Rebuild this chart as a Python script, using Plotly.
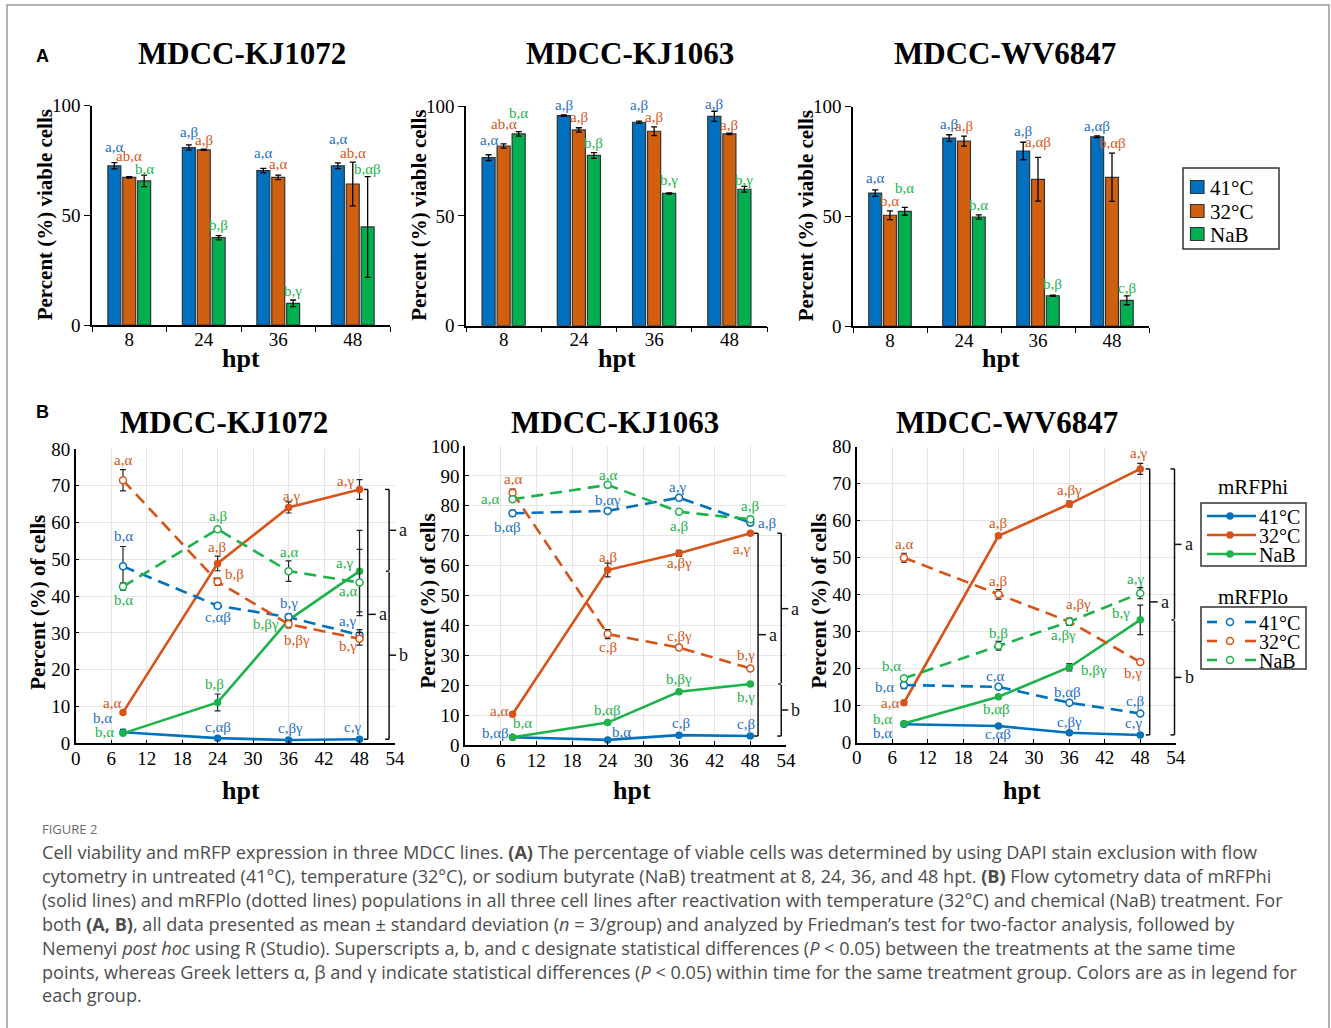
import plotly.graph_objects as go

W, H = 1331, 1028
SERIF = "Liberation Serif, Times New Roman, serif"
SANS = "Liberation Sans, Arial, sans-serif"
CAP = "Open Sans, Noto Sans, sans-serif"

# ======================= DATA =======================
hpt_cats = ["8", "24", "36", "48"]
treatments = ["41°C", "32°C", "NaB"]
cell_lines = ["MDCC-KJ1072", "MDCC-KJ1063", "MDCC-WV6847"]
legend_groups = ["mRFPhi", "mRFPlo"]

# ---- Panel A: percent viable cells ----
kj1072_41 = [72.6, 80.9, 70.4, 72.6]
kj1072_41_sd = [1.4, 1.2, 1.0, 1.3]
kj1072_32 = [67.3, 79.9, 67.3, 64.3]
kj1072_32_sd = [0.3, 0.3, 1.0, 10.0]
kj1072_nab = [65.7, 39.8, 9.9, 44.7]
kj1072_nab_sd = [2.6, 1.0, 1.5, 23.0]
kj1072_41_lab = ["a,α", "a,β", "a,α", "a,α"]
kj1072_32_lab = ["ab,α", "a,β", "a,α", "ab,α"]
kj1072_nab_lab = ["b,α", "b,β", "b,γ", "b,αβ"]

kj1063_41 = [76.5, 95.6, 92.6, 95.3]
kj1063_41_sd = [1.3, 0.3, 0.5, 2.3]
kj1063_32 = [81.8, 89.1, 88.5, 87.3]
kj1063_32_sd = [1.0, 1.0, 2.0, 0.3]
kj1063_nab = [87.3, 77.5, 60.2, 62.1]
kj1063_nab_sd = [1.0, 1.3, 0.3, 1.3]
kj1063_41_lab = ["a,α", "a,β", "a,β", "a,β"]
kj1063_32_lab = ["ab,α", "a,β", "a,β", "a,β"]
kj1063_nab_lab = ["b,α", "b,β", "b,γ", "b,γ"]

wv6847_41 = [60.6, 85.7, 79.8, 86.3]
wv6847_41_sd = [1.5, 1.5, 4.0, 0.4]
wv6847_32 = [50.5, 84.3, 66.9, 67.8]
wv6847_32_sd = [2.0, 2.3, 10.0, 11.0]
wv6847_nab = [52.3, 49.7, 13.8, 11.7]
wv6847_nab_sd = [1.8, 1.0, 0.3, 2.0]
wv6847_41_lab = ["a,α", "a,β", "a,β", "a,αβ"]
wv6847_32_lab = ["b,α", "a,β", "a,αβ", "b,αβ"]
wv6847_nab_lab = ["b,α", "b,α", "b,β", "c,β"]

# ---- Panel B: percent of cells (mRFPhi solid, mRFPlo dashed) ----
hpt = [8, 24, 36, 48]

kj1072_hi_41 = [3.0, 1.4, 0.9, 1.1]
kj1072_hi_41_sd = [0.8, 0.3, 0.2, 0.2]
kj1072_hi_32 = [8.4, 48.9, 64.1, 69.0]
kj1072_hi_32_sd = [0.5, 2.0, 1.5, 2.7]
kj1072_hi_nab = [2.7, 11.1, 33.5, 46.8]
kj1072_hi_nab_sd = [0.5, 2.3, 1.0, 11.1]
kj1072_lo_41 = [48.1, 37.4, 34.3, 29.4]
kj1072_lo_41_sd = [5.4, 0.7, 0.8, 1.5]
kj1072_lo_32 = [71.5, 43.9, 32.4, 28.4]
kj1072_lo_32_sd = [2.9, 1.0, 1.0, 1.7]
kj1072_lo_nab = [42.6, 58.2, 46.8, 43.7]
kj1072_lo_nab_sd = [1.0, 0.5, 2.8, 9.0]
kj1072_hi_41_lab = ["b,α", "c,αβ", "c,βγ", "c,γ"]
kj1072_hi_32_lab = ["a,α", "a,β", "a,γ", "a,γ"]
kj1072_hi_nab_lab = ["b,α", "b,β", "b,βγ", "a,γ"]
kj1072_lo_41_lab = ["b,α", "c,αβ", "b,γ", "a,γ"]
kj1072_lo_32_lab = ["a,α", "b,β", "b,βγ", "b,γ"]
kj1072_lo_nab_lab = ["b,α", "a,β", "a,α", "a,α"]

kj1063_hi_41 = [2.6, 1.7, 3.3, 3.0]
kj1063_hi_41_sd = [0.3, 0.3, 0.3, 0.3]
kj1063_hi_32 = [10.3, 58.5, 64.1, 70.8]
kj1063_hi_32_sd = [0.5, 2.3, 1.0, 0.5]
kj1063_hi_nab = [2.6, 7.5, 17.8, 20.4]
kj1063_hi_nab_sd = [0.3, 0.5, 0.6, 0.5]
kj1063_lo_41 = [77.5, 78.3, 82.7, 74.4]
kj1063_lo_41_sd = [1.0, 0.3, 0.5, 1.0]
kj1063_lo_32 = [84.4, 37.1, 32.6, 25.6]
kj1063_lo_32_sd = [1.2, 1.5, 0.8, 0.5]
kj1063_lo_nab = [82.2, 87.0, 78.0, 75.5]
kj1063_lo_nab_sd = [0.5, 0.8, 0.5, 1.0]
kj1063_hi_41_lab = ["b,αβ", "b,α", "c,β", "c,β"]
kj1063_hi_32_lab = ["a,α", "a,β", "a,βγ", "a,γ"]
kj1063_hi_nab_lab = ["b,α", "b,αβ", "b,βγ", "b,γ"]
kj1063_lo_41_lab = ["b,αβ", "b,αγ", "a,γ", "a,β"]
kj1063_lo_32_lab = ["a,α", "c,β", "c,βγ", "b,γ"]
kj1063_lo_nab_lab = ["a,α", "a,α", "a,β", "a,β"]

wv6847_hi_41 = [5.0, 4.5, 2.7, 2.1]
wv6847_hi_41_sd = [0.3, 0.3, 0.3, 0.3]
wv6847_hi_32 = [10.8, 55.9, 64.5, 74.0]
wv6847_hi_32_sd = [0.4, 0.5, 0.8, 1.5]
wv6847_hi_nab = [5.2, 12.4, 20.4, 33.2]
wv6847_hi_nab_sd = [0.4, 0.4, 1.0, 4.0]
wv6847_lo_41 = [15.6, 15.1, 10.8, 7.9]
wv6847_lo_41_sd = [1.0, 0.3, 0.3, 0.3]
wv6847_lo_32 = [50.0, 40.1, 32.7, 21.8]
wv6847_lo_32_sd = [1.2, 1.3, 0.8, 0.4]
wv6847_lo_nab = [17.4, 26.2, 32.7, 40.4]
wv6847_lo_nab_sd = [0.5, 1.2, 1.0, 1.5]
wv6847_hi_41_lab = ["b,α", "c,αβ", "c,βγ", "c,γ"]
wv6847_hi_32_lab = ["a,α", "a,β", "a,βγ", "a,γ"]
wv6847_hi_nab_lab = ["b,α", "b,αβ", "b,βγ", "b,γ"]
wv6847_lo_41_lab = ["b,α", "c,α", "b,αβ", "c,β"]
wv6847_lo_32_lab = ["a,α", "a,β", "a,βγ", "b,γ"]
wv6847_lo_nab_lab = ["b,α", "b,β", "a,βγ", "a,γ"]

bracket_labels = ["a", "a", "b"]  # inner, outer-top, outer-bottom

caption_title = "FIGURE 2"
caption_lines = [
    "Cell viability and mRFP expression in three MDCC lines. <b>(A)</b> The percentage of viable cells was determined by using DAPI stain exclusion with flow",
    "cytometry in untreated (41°C), temperature (32°C), or sodium butyrate (NaB) treatment at 8, 24, 36, and 48 hpt. <b>(B)</b> Flow cytometry data of mRFPhi",
    "(solid lines) and mRFPlo (dotted lines) populations in all three cell lines after reactivation with temperature (32°C) and chemical (NaB) treatment. For",
    "both <b>(A, B)</b>, all data presented as mean ± standard deviation (<i>n</i> = 3/group) and analyzed by Friedman’s test for two-factor analysis, followed by",
    "Nemenyi <i>post hoc</i> using R (Studio). Superscripts a, b, and c designate statistical differences (<i>P</i> &lt; 0.05) between the treatments at the same time",
    "points, whereas Greek letters α, β and γ indicate statistical differences (<i>P</i> &lt; 0.05) within time for the same treatment group. Colors are as in legend for",
    "each group.",
]

# ======================= STYLE / GEOMETRY =======================
BAR_COLORS = ["#0070C0", "#D0600F", "#00B050"]
LINE_COLORS = ["#0072BD", "#D95319", "#1DB34A"]
TXT_COLORS = ["#1F6FC5", "#D4581A", "#1DB34A"]

BARGAP = 0.4
# pixel geometry: (left, right, bottom, top)
A_geo = [(92, 390, 325, 105.7), (466, 767, 325.7, 106), (853, 1149, 326, 106.7)]
B_geo = [(75.7, 395, 743.3, 449), (465, 786, 745, 446), (856.7, 1175.7, 742.7, 446.7)]
B_ymax = [80, 100, 80]

A_label_shift = [
    [[19, 16, 18, 27], [21, 10, 13, 31], [12, 13, 12, 58]],
    [[18, 11, 17, 12], [22, 13, 14, 9], [21, 12, 13, 9]],
    [[15, 14, 20, 11], [14, 15, 37, 34], [23, 12, 12, 12]],
]
# order: hi_41, hi_32, hi_nab, lo_41, lo_32, lo_nab ; (dx, dy) px, dy positive = down
B_label_off = [
    [[(-21, -14), (0, -11), (2, -12), (-7, -12)],
     [(-11, -9), (-1, -16), (3, -11), (-14, -8)],
     [(-19, -1), (-3, -18), (-23, 4), (-15, -8)],
     [(0, -30), (0, 11), (0, -14), (-12, -14)],
     [(0, -20), (17, -8), (8, 16), (-12, 7)],
     [(0, 13), (0, -13), (0, -19), (-12, 8)]],
    [[(-17, -4), (14, -8), (2, -12), (-4, -12)],
     [(-14, -3), (0, -13), (0, 10), (-9, 16)],
     [(10, -14), (0, -13), (0, -13), (-4, 13)],
     [(-5, 14), (0, -11), (-2, -11), (17, 0)],
     [(0, -14), (0, 13), (0, -12), (-4, -13)],
     [(-23, 0), (0, -10), (0, 14), (0, -13)]],
    [[(-21, 9), (0, 8), (0, -11), (-7, -12)],
     [(-14, 0), (0, -13), (0, -14), (-2, -16)],
     [(-21, -4), (-2, 12), (25, 3), (-19, -7)],
     [(-19, 2), (-3, -11), (-2, -11), (-5, -12)],
     [(0, -14), (0, -13), (9, -18), (-7, 11)],
     [(-12, -12), (0, -13), (-6, 13), (-5, -14)]],
]
bracket_inner_h = [49.4, 49.3, 49.6]
bracket_outer_h = [53.0, 53.2, 53.8]


def px_x(px):
    return px / W


def px_y(py):
    return 1 - py / H


def text_ann(px, py, text, size, color="black", family=SERIF, xanchor="center", angle=0):
    return dict(x=px_x(px), y=px_y(py), xref="paper", yref="paper", text=text, showarrow=False,
                xanchor=xanchor, yanchor="middle", textangle=angle,
                font=dict(family=family, size=size, color=color))


A_data = [
    ([kj1072_41, kj1072_32, kj1072_nab], [kj1072_41_sd, kj1072_32_sd, kj1072_nab_sd],
     [kj1072_41_lab, kj1072_32_lab, kj1072_nab_lab]),
    ([kj1063_41, kj1063_32, kj1063_nab], [kj1063_41_sd, kj1063_32_sd, kj1063_nab_sd],
     [kj1063_41_lab, kj1063_32_lab, kj1063_nab_lab]),
    ([wv6847_41, wv6847_32, wv6847_nab], [wv6847_41_sd, wv6847_32_sd, wv6847_nab_sd],
     [wv6847_41_lab, wv6847_32_lab, wv6847_nab_lab]),
]
B_data = [
    ([kj1072_hi_41, kj1072_hi_32, kj1072_hi_nab, kj1072_lo_41, kj1072_lo_32, kj1072_lo_nab],
     [kj1072_hi_41_sd, kj1072_hi_32_sd, kj1072_hi_nab_sd, kj1072_lo_41_sd, kj1072_lo_32_sd, kj1072_lo_nab_sd],
     [kj1072_hi_41_lab, kj1072_hi_32_lab, kj1072_hi_nab_lab, kj1072_lo_41_lab, kj1072_lo_32_lab, kj1072_lo_nab_lab]),
    ([kj1063_hi_41, kj1063_hi_32, kj1063_hi_nab, kj1063_lo_41, kj1063_lo_32, kj1063_lo_nab],
     [kj1063_hi_41_sd, kj1063_hi_32_sd, kj1063_hi_nab_sd, kj1063_lo_41_sd, kj1063_lo_32_sd, kj1063_lo_nab_sd],
     [kj1063_hi_41_lab, kj1063_hi_32_lab, kj1063_hi_nab_lab, kj1063_lo_41_lab, kj1063_lo_32_lab, kj1063_lo_nab_lab]),
    ([wv6847_hi_41, wv6847_hi_32, wv6847_hi_nab, wv6847_lo_41, wv6847_lo_32, wv6847_lo_nab],
     [wv6847_hi_41_sd, wv6847_hi_32_sd, wv6847_hi_nab_sd, wv6847_lo_41_sd, wv6847_lo_32_sd, wv6847_lo_nab_sd],
     [wv6847_hi_41_lab, wv6847_hi_32_lab, wv6847_hi_nab_lab, wv6847_lo_41_lab, wv6847_lo_32_lab, wv6847_lo_nab_lab]),
]

fig = go.Figure()
annotations = []
shapes = []
layout_axes = {}

tickfont = dict(family=SERIF, size=19, color="black")

# ---------- Panel A (bars) ----------
slot = (1 - BARGAP) / 3
for p, (vals, sds, labs) in enumerate(A_data):
    xa = "x" if p == 0 else f"x{p + 1}"
    ya = "y" if p == 0 else f"y{p + 1}"
    l, r, b, t = A_geo[p]
    for k in range(3):
        fig.add_trace(go.Bar(
            x=hpt_cats, y=vals[k], name=treatments[k], xaxis=xa, yaxis=ya,
            marker=dict(color=BAR_COLORS[k], line=dict(color="#333333", width=1.2)),
            error_y=dict(type="data", array=sds[k], color="black", thickness=1.3, width=3),
            showlegend=False, offsetgroup=str(k),
        ))
        for i in range(4):
            annotations.append(dict(
                x=i + (k - 1) * slot, y=vals[k][i], xref=xa, yref=ya, text=labs[k][i],
                showarrow=False, yshift=A_label_shift[p][k][i], xanchor="center", yanchor="middle",
                font=dict(family=SERIF, size=15, color=TXT_COLORS[k])))
    layout_axes["xaxis" if p == 0 else f"xaxis{p + 1}"] = dict(
        domain=[px_x(l), px_x(r)], anchor=ya, type="category", range=[-0.5, 3.5],
        tickson="boundaries", ticks="outside", ticklen=5, tickwidth=1.3, tickcolor="black",
        ticklabelstandoff=-4,
        showline=True, linecolor="black", linewidth=1.5, showgrid=False, zeroline=False,
        tickfont=tickfont, fixedrange=True)
    layout_axes["yaxis" if p == 0 else f"yaxis{p + 1}"] = dict(
        domain=[px_y(b), px_y(t)], anchor=xa, range=[0, 100], tickvals=[0, 50, 100],
        ticks="outside", ticklen=6, tickwidth=1.3, tickcolor="black",
        showline=True, linecolor="black", linewidth=1.5, showgrid=False, zeroline=False,
        tickfont=tickfont, fixedrange=True)
    annotations.append(text_ann((l + r) / 2, 358, "<b>hpt</b>", 26))
    annotations.append(text_ann(l - 47, (b + t) / 2, "<b>Percent (%) viable cells</b>", 21, angle=-90))

A_title_x = [242, 630, 1005]
for p in range(3):
    annotations.append(text_ann(A_title_x[p], 53, f"<b>{cell_lines[p]}</b>", 31))

# ---------- Panel B (lines) ----------
DASH = "12px,7px"
series_style = [(0, "solid", True), (1, "solid", True), (2, "solid", True),
                (0, DASH, False), (1, DASH, False), (2, DASH, False)]
for p, (vals, sds, labs) in enumerate(B_data):
    xa = f"x{p + 4}"
    ya = f"y{p + 4}"
    l, r, b, t = B_geo[p]
    ymax = B_ymax[p]
    for s in range(6):
        ci, dash, filled = series_style[s]
        col = LINE_COLORS[ci]
        fig.add_trace(go.Scatter(
            x=hpt, y=vals[s], mode="lines+markers",
            name=f"{legend_groups[0] if filled else legend_groups[1]} {treatments[ci]}",
            xaxis=xa, yaxis=ya,
            line=dict(color=col, width=2.6, dash=dash),
            marker=dict(symbol="circle", size=6 if filled else 7,
                        color=col if filled else "white", line=dict(color=col, width=1.5)),
            error_y=dict(type="data", array=sds[s], color="#222222", thickness=1.2, width=3),
            showlegend=False,
        ))
        for i in range(4):
            dx, dy = B_label_off[p][s][i]
            annotations.append(dict(
                x=hpt[i], y=vals[s][i], xref=xa, yref=ya, text=labs[s][i], showarrow=False,
                xshift=dx, yshift=-dy, xanchor="center", yanchor="middle",
                font=dict(family=SERIF, size=15, color=TXT_COLORS[ci])))
    layout_axes[f"xaxis{p + 4}"] = dict(
        domain=[px_x(l), px_x(r)], anchor=ya, range=[0, 54], tick0=0, dtick=6,
        ticks="inside", ticklen=4, tickwidth=1.2, tickcolor="black", ticklabelstandoff=-3,
        showline=True, linecolor="black", linewidth=1.5, showgrid=True, gridcolor="#e6e6e6",
        gridwidth=1, zeroline=False, tickfont=tickfont, fixedrange=True)
    layout_axes[f"yaxis{p + 4}"] = dict(
        domain=[px_y(b), px_y(t)], anchor=xa, range=[0, ymax], tick0=0, dtick=10,
        ticks="inside", ticklen=4, tickwidth=1.2, tickcolor="black",
        showline=True, linecolor="black", linewidth=1.5, showgrid=True, gridcolor="#e6e6e6",
        gridwidth=1, zeroline=False, tickfont=tickfont, fixedrange=True)
    annotations.append(text_ann((l + r) / 2 + 6, 790, "<b>hpt</b>", 26))
    annotations.append(text_ann(l - 38, (b + t) / 2 + 6, "<b>Percent (%) of cells</b>", 21, angle=-90))

    # significance brackets at 48 hpt (mRFPhi)
    def hx(h):
        return l + h / 54 * (r - l)

    def vy(v):
        return b - v / ymax * (b - t)

    top = vals[1][-1]
    join = vals[2][-1]
    bot = vals[0][-1]
    xi = hx(bracket_inner_h[p])
    xo = hx(bracket_outer_h[p])
    mid_i = (top + bot) / 2
    mid_a = (top + join) / 2
    mid_b = (join + bot) / 2
    segs = [
        (xi, vy(top), xi, vy(bot)),
        (xi - 4, vy(top), xi, vy(top)),
        (xi - 4, vy(bot), xi, vy(bot)),
        (xi, vy(mid_i), xi + 8, vy(mid_i)),
        (xo, vy(top), xo, vy(join) - 1),
        (xo, vy(join) + 1, xo, vy(bot)),
        (xo - 4, vy(top), xo, vy(top)),
        (xo - 3, vy(join), xo, vy(join)),
        (xo - 4, vy(bot), xo, vy(bot)),
        (xo, vy(mid_a), xo + 7, vy(mid_a)),
        (xo, vy(mid_b), xo + 7, vy(mid_b)),
    ]
    for (x0, y0, x1, y1) in segs:
        shapes.append(dict(type="line", xref="paper", yref="paper",
                           x0=px_x(x0), y0=px_y(y0), x1=px_x(x1), y1=px_y(y1),
                           line=dict(color="#111111", width=1.5)))
    for (lx, lv, txt) in [(xi + 9, mid_i, bracket_labels[0]), (xo + 8, mid_a, bracket_labels[1]),
                          (xo + 8, mid_b, bracket_labels[2])]:
        annotations.append(text_ann(lx, vy(lv), txt, 18, color="#111111", xanchor="left"))

B_title_x = [224, 615, 1007]
for p in range(3):
    annotations.append(text_ann(B_title_x[p], 422, f"<b>{cell_lines[p]}</b>", 31))

# panel letters
annotations.append(text_ann(42, 56, "<b>A</b>", 18, family=SANS))
annotations.append(text_ann(42, 412, "<b>B</b>", 18, family=SANS))

# ---------- legends (drawn as key boxes) ----------
def rect(x0, y0, x1, y1, line_col, fill, width=1.5):
    return dict(type="rect", xref="paper", yref="paper", x0=px_x(x0), x1=px_x(x1),
                y0=px_y(y1), y1=px_y(y0), line=dict(color=line_col, width=width), fillcolor=fill)

# bar legend
shapes.append(rect(1183, 168, 1279, 249, "#333333", "white"))
for k, yy in enumerate([187, 211, 234]):
    shapes.append(rect(1190.5, yy - 6.5, 1204, yy + 6.5, "#333333", BAR_COLORS[k], 1.2))
    annotations.append(text_ann(1208, yy + 1, treatments[k], 21, xanchor="left"))

# line legends
for g, (ty, by0, by1, rows) in enumerate([(487, 503, 566, [516, 535, 554]),
                                            (597, 607, 669, [622, 641, 660])]):
    annotations.append(text_ann(1253, ty, legend_groups[g], 21))
    shapes.append(rect(1201, by0, 1306, by1, "#333333", "white"))
    for k, yy in enumerate(rows):
        col = LINE_COLORS[k]
        if g == 0:
            shapes.append(dict(type="line", xref="paper", yref="paper", x0=px_x(1207), x1=px_x(1256),
                               y0=px_y(yy), y1=px_y(yy), line=dict(color=col, width=2.6)))
            shapes.append(dict(type="circle", xref="paper", yref="paper", x0=px_x(1227), x1=px_x(1233),
                               y0=px_y(yy + 3), y1=px_y(yy - 3), line=dict(color=col, width=1.5),
                               fillcolor=col))
        else:
            for (a0, a1) in [(1207, 1217), (1245, 1256)]:
                shapes.append(dict(type="line", xref="paper", yref="paper", x0=px_x(a0), x1=px_x(a1),
                                   y0=px_y(yy), y1=px_y(yy), line=dict(color=col, width=2.6)))
            shapes.append(dict(type="circle", xref="paper", yref="paper", x0=px_x(1226.5), x1=px_x(1233.5),
                               y0=px_y(yy + 3.5), y1=px_y(yy - 3.5), line=dict(color=col, width=1.5),
                               fillcolor="white"))
        annotations.append(text_ann(1257, yy + 1, treatments[k], 20, xanchor="left"))

# caption
annotations.append(text_ann(40, 829, caption_title, 13, color="#6a6a6a", family=CAP, xanchor="left"))
for j, line in enumerate(caption_lines):
    annotations.append(text_ann(40, 852 + j * 23.9, line, 18.1, color="#4d4d4d", family=CAP, xanchor="left"))

# outer frame
shapes.append(dict(type="rect", xref="paper", yref="paper", x0=px_x(7), x1=px_x(1329),
                   y0=px_y(1040), y1=px_y(5), line=dict(color="#9a9a9a", width=1.5),
                   fillcolor="rgba(0,0,0,0)", layer="below"))

fig.update_layout(
    width=W, height=H, margin=dict(l=0, r=0, t=0, b=0, autoexpand=False),
    paper_bgcolor="white", plot_bgcolor="white", showlegend=False,
    barmode="group", bargap=BARGAP, bargroupgap=0.13,
    annotations=annotations, shapes=shapes,
    **layout_axes,
)

fig.write_html("out.html", config={"displayModeBar": False},
               post_script="document.body.style.margin='0';")
